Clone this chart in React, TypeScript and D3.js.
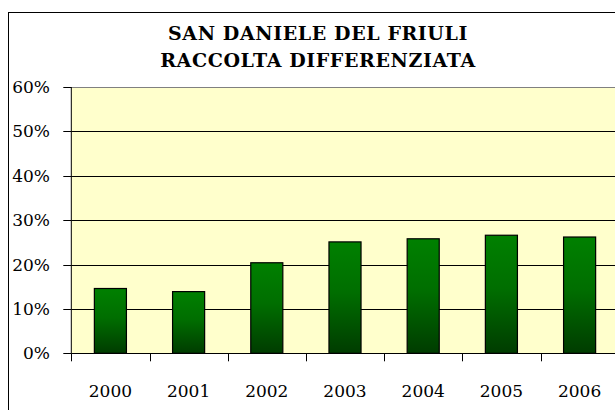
import React from "react";
import * as d3 from "d3";

const years = ["2000", "2001", "2002", "2003", "2004", "2005", "2006"];
const percent = [0.146, 0.139, 0.204, 0.251, 0.258, 0.266, 0.262];
const yTicks = [0, 0.1, 0.2, 0.3, 0.4, 0.5, 0.6];
const titleLines = ["SAN DANIELE DEL FRIULI", "RACCOLTA DIFFERENZIATA"];

const W = 615;
const H = 410;
const plot = { left: 71.3, top: 87, right: 618.7, bottom: 353.3 };
const font = "DejaVu Serif, serif";

const App = () => {
  const x = d3
    .scaleBand()
    .domain(years)
    .range([plot.left, plot.right])
    .paddingInner(0.59)
    .paddingOuter(0.295);
  const y = d3.scaleLinear().domain([0, 0.6]).range([plot.bottom, plot.top]);
  const fmt = d3.format(".0%");
  const step = (plot.right - plot.left) / years.length;

  return (
    <svg
      width={W}
      height={H}
      style={{ position: "absolute", left: 0, top: 0, display: "block" }}
    >
      <defs>
        <linearGradient id="barFill" x1="0" y1="0" x2="0" y2="1">
          <stop offset="0%" stopColor="#008000" />
          <stop offset="45%" stopColor="#006e00" />
          <stop offset="100%" stopColor="#003c00" />
        </linearGradient>
      </defs>
      <rect x={0} y={0} width={W} height={H} fill="#fff" />
      {/* chart frame */}
      <rect x={8.5} y={12.5} width={700} height={500} fill="none" stroke="#000" />
      {titleLines.map((t, i) => (
        <text
          key={t}
          x={318}
          y={40 + i * 27}
          textAnchor="middle"
          fontFamily={font}
          fontWeight="bold"
          fontSize={19}
          letterSpacing={0.6}
        >
          {t}
        </text>
      ))}
      {/* plot area */}
      <rect
        x={plot.left}
        y={plot.top}
        width={plot.right - plot.left}
        height={plot.bottom - plot.top}
        fill="#ffffcc"
      />
      {yTicks.slice(1, -1).map((t) => (
        <line
          key={t}
          x1={plot.left}
          x2={plot.right}
          y1={Math.round(y(t)) + 0.5}
          y2={Math.round(y(t)) + 0.5}
          stroke="#000"
        />
      ))}
      <line
        x1={plot.left}
        x2={plot.right}
        y1={plot.top + 0.5}
        y2={plot.top + 0.5}
        stroke="#808080"
      />
      {years.map((yr, i) => (
        <rect
          key={yr}
          x={x(yr)}
          y={y(percent[i])}
          width={x.bandwidth()}
          height={plot.bottom - y(percent[i])}
          fill="url(#barFill)"
          stroke="#000"
          strokeWidth={1.2}
        />
      ))}
      {/* y axis */}
      <line
        x1={plot.left}
        x2={plot.left}
        y1={plot.top}
        y2={plot.bottom}
        stroke="#000"
      />
      {yTicks.map((t) => (
        <g key={t}>
          <line
            x1={plot.left - 8}
            x2={plot.left}
            y1={Math.round(y(t)) + 0.5}
            y2={Math.round(y(t)) + 0.5}
            stroke="#000"
          />
          <text
            x={50}
            y={y(t) + 6}
            textAnchor="end"
            fontFamily={font}
            fontSize={17}
          >
            {fmt(t)}
          </text>
        </g>
      ))}
      {/* x axis */}
      <line
        x1={plot.left}
        x2={plot.right}
        y1={Math.round(plot.bottom) + 0.5}
        y2={Math.round(plot.bottom) + 0.5}
        stroke="#000"
      />
      {d3.range(years.length + 1).map((i) => (
        <line
          key={i}
          x1={Math.round(plot.left + i * step) + 0.5}
          x2={Math.round(plot.left + i * step) + 0.5}
          y1={plot.bottom}
          y2={plot.bottom + 8}
          stroke="#000"
        />
      ))}
      {years.map((yr) => (
        <text
          key={yr}
          x={x(yr) + x.bandwidth() / 2}
          y={397}
          textAnchor="middle"
          fontFamily={font}
          fontSize={17}
        >
          {yr}
        </text>
      ))}
    </svg>
  );
};

export default App;
